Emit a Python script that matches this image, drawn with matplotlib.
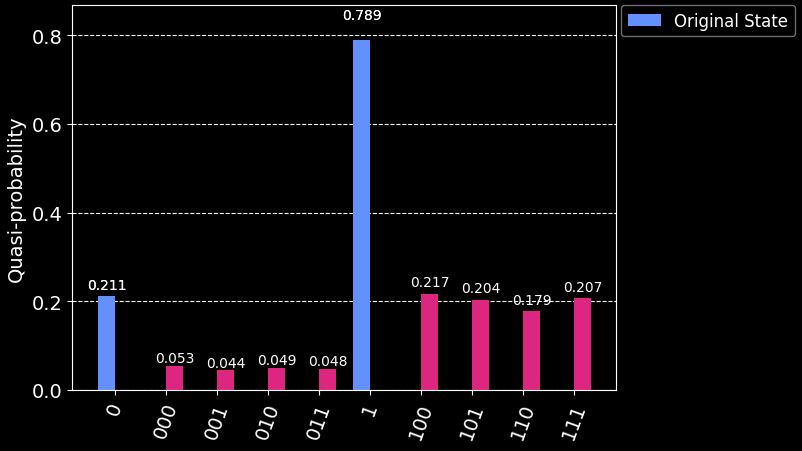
import matplotlib
matplotlib.use("Agg")
import matplotlib.pyplot as plt
import numpy as np

labels = ["0", "000", "001", "010", "011", "1", "100", "101", "110", "111"]
original = [0.211, 0, 0, 0, 0, 0.789, 0, 0, 0, 0]
second = [0, 0.053, 0.044, 0.049, 0.048, 0, 0.217, 0.204, 0.179, 0.207]
legend_labels = ["Original State"]

fig = plt.figure(figsize=(8.02, 4.52), dpi=100, facecolor="black")
ax = fig.add_axes([72/802, 61/452, 544/802, 385/452])
ax.set_facecolor("black")

ind = np.arange(len(labels))
w = 1/3
r1 = ax.bar(ind - w/2, original, width=w, color="#648fff", label=legend_labels[0], zorder=2)
r2 = ax.bar(ind + w/2, second, width=w, color="#dc267f", zorder=2)
for rects, reps in ((r1, 2), (r2, 1)):
    for rect in rects:
        h = rect.get_height()
        if h >= 1e-3:
            for _ in range(reps):
                ax.text(rect.get_x() + rect.get_width()/2, 1.05*h, "%.3f" % h,
                        ha="center", va="bottom", color="white", fontsize=10, zorder=3)

ax.set_xlim(-0.843, 9.82)
ax.set_ylim(0, 1.1*max(max(original), max(second)))
ax.set_xticks(ind)
ax.set_xticklabels(labels, fontsize=14, rotation=70, color="white")
ax.set_yticks([0, 0.2, 0.4, 0.6, 0.8])
ax.set_yticklabels(["0.0", "0.2", "0.4", "0.6", "0.8"], fontsize=14, color="white")
ax.tick_params(colors="white")
ax.set_ylabel("Quasi-probability", fontsize=14, color="white")
ax.yaxis.grid(True, color="white", linestyle="--", zorder=0)
ax.set_axisbelow(True)
for s in ax.spines.values():
    s.set_color("white")

leg = ax.legend(loc="upper left", bbox_to_anchor=(1.0 + 5/544, 1.0), borderaxespad=0,
                fontsize=12, facecolor="black", edgecolor="#888888", labelcolor="white")

fig.savefig("out.png", dpi=100, facecolor="black")
